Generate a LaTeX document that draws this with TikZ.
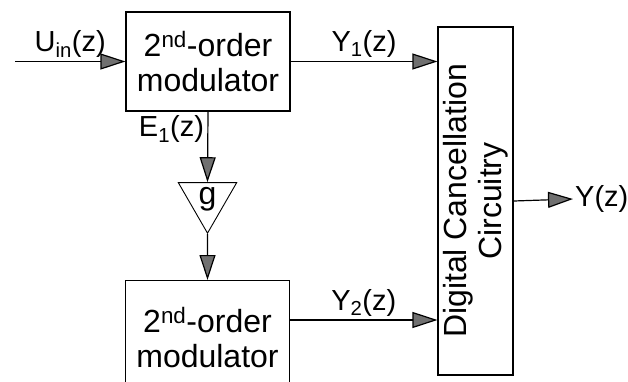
\documentclass[tikz,border=0pt]{standalone}
\usepackage{fontspec}
\setmainfont{Liberation Sans}
\usetikzlibrary{arrows.meta, positioning, shapes.geometric}
\definecolor{tipgray}{HTML}{707070}

\begin{document}
\begin{tikzpicture}[
        x=1pt, y=-1pt,
        block/.style={
            draw,
            line width=1.2pt,
            minimum width=164pt,
            minimum height=99pt,
            inner sep=0pt,
            align=center,
            font=\fontsize{32}{35}\selectfont
        },
        gain/.style={
            draw,
            regular polygon,
            regular polygon sides=3,
            shape border rotate=180,
            minimum size=66pt,
            inner sep=0pt,
            line width=0.9pt,
            font=\fontsize{32}{35}\selectfont
        },
        sig/.style={-{Triangle[length=25pt, width=16pt, fill=tipgray]}, line width=1.2pt},
        lbl/.style={font=\fontsize{29}{32}\selectfont}
    ]
        \useasboundingbox (0,0) rectangle (628,381);
        \clip (0,0) rectangle (628,381);

        \node[block] (mod1) at (208,61.5) {2\textsuperscript{nd}-order\\modulator};
        \node[gain] (g) at (207.5,199.5) {g};
        \node[block, minimum height=114pt, anchor=north] (mod2) at (207.5,280) {2\textsuperscript{nd}-order\\modulator};
        \node[draw, line width=1.2pt, rotate=90, minimum width=348pt, minimum height=75pt,
              inner sep=0pt, align=center, font=\fontsize{32}{35}\selectfont] (dcc) at (475.5,201)
              {Digital Cancellation\\Circuitry};
        \coordinate (uin) at (15,61.5);
        \node[lbl, anchor=west, inner sep=2pt] (yout) at (573,199) {Y(z)};

        \draw[sig] (uin) -- node[lbl, above=0pt] {U\textsubscript{in}(z)} (mod1.west);
        \draw[sig] (mod1.east) -- node[lbl, above=0pt] {Y\textsubscript{1}(z)} (mod1.east -| dcc.north);
        \draw[sig] (mod1.south) -- node[lbl, left=0pt, pos=0.25] {E\textsubscript{1}(z)} (g.north);
        \draw[sig] (g.south) -- (mod2.north);
        \draw[sig] ([yshift=-40pt]mod2.north east) -- node[lbl, above=0pt] {Y\textsubscript{2}(z)} ([yshift=-40pt]mod2.north east -| dcc.north);
        \draw[sig] (dcc.south) -- (yout.west);
    \end{tikzpicture}
\end{document}
